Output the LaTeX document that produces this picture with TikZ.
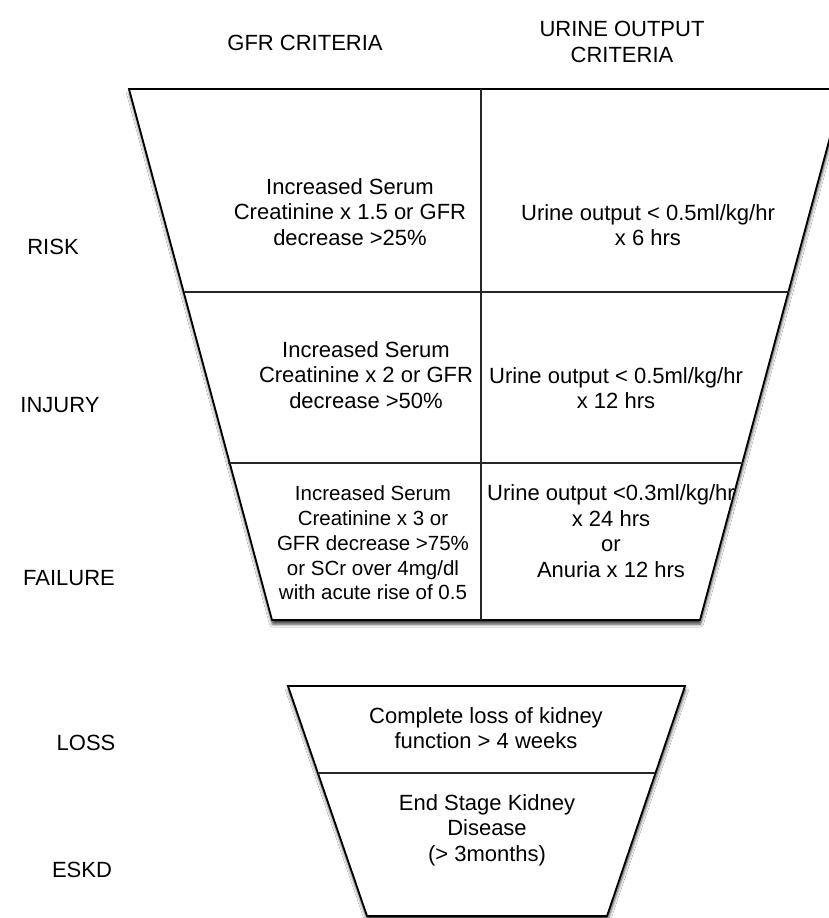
\documentclass[tikz,border=0pt]{standalone}
\usepackage{fontspec}
\setmainfont{Liberation Sans}
\usetikzlibrary{shadows.blur}
\tikzset{
  lbl/.style={font=\fontsize{22}{25.5}\selectfont, align=center, inner sep=0pt},
  small/.style={font=\fontsize{20.5}{24.8}\selectfont, align=center, inner sep=0pt},
  box/.style={draw=black, line width=1.8pt, fill=white, line join=miter,
    blur shadow={shadow xshift=0.5pt, shadow yshift=-4pt, shadow blur radius=3pt, shadow opacity=80}},
  grid/.style={draw=black!85, line width=1.5pt}
}
\begin{document}
\begin{tikzpicture}[x=1pt, y=-1pt]
\clip (0,0) rectangle (829,918);
\fill[white] (0,0) rectangle (829,918);
% top trapezoid
\coordinate (tl) at (129,89);
\coordinate (tr) at (843,89);
\coordinate (br) at (700,620);
\coordinate (bl) at (272,620);
\coordinate (l1) at (184,292);
\coordinate (r1) at (789,292);
\coordinate (l2) at (228,463);
\coordinate (r2) at (743,463);
\coordinate (vt) at (481,89);
\coordinate (vb) at (481,620);
\path[box] (tl) -- (tr) -- (br) -- (bl) -- cycle;
\draw[grid] (l1) -- (r1);
\draw[grid] (l2) -- (r2);
\draw[grid] (vt) -- (vb);
% bottom trapezoid
\coordinate (btl) at (288,686);
\coordinate (btr) at (685,686);
\coordinate (bbr) at (607,916);
\coordinate (bbl) at (367,916);
\coordinate (bml) at (318,773);
\coordinate (bmr) at (655,773);
\path[box] (btl) -- (btr) -- (bbr) -- (bbl) -- cycle;
\draw[grid] (bml) -- (bmr);
% headers
\node[lbl] (hgfr) at (305,43) {GFR CRITERIA};
\node[lbl] (huo) at (622,42) {URINE OUTPUT\\CRITERIA};
% row labels
\node[lbl] (risk) at (53,247) {RISK};
\node[lbl] (injury) at (60,405) {INJURY};
\node[lbl] (failure) at (69,578) {FAILURE};
\node[lbl] (loss) at (86,743) {LOSS};
\node[lbl] (eskd) at (82,870) {ESKD};
% cells
\node[lbl] (rg) at (350,212) {Increased Serum\\Creatinine x 1.5 or GFR\\decrease >25\%};
\node[lbl] (ru) at (648,225) {Urine output < 0.5ml/kg/hr\\x 6 hrs};
\node[lbl] (ig) at (366,375) {Increased Serum\\Creatinine x 2 or GFR\\decrease >50\%};
\node[lbl] (iu) at (616,388) {Urine output < 0.5ml/kg/hr\\x 12 hrs};
\node[small] (fg) at (373,543) {Increased Serum\\Creatinine x 3 or\\GFR decrease >75\%\\or SCr over 4mg/dl\\with acute rise of 0.5};
\node[lbl] (fu) at (611,531) {Urine output <0.3ml/kg/hr\\x 24 hrs\\or\\Anuria x 12 hrs};
\node[lbl] (lo) at (486,728) {Complete loss of kidney\\function > 4 weeks};
\node[lbl] (es) at (487,830) {End Stage Kidney\\Disease\\(> 3months)};
\end{tikzpicture}
\end{document}
